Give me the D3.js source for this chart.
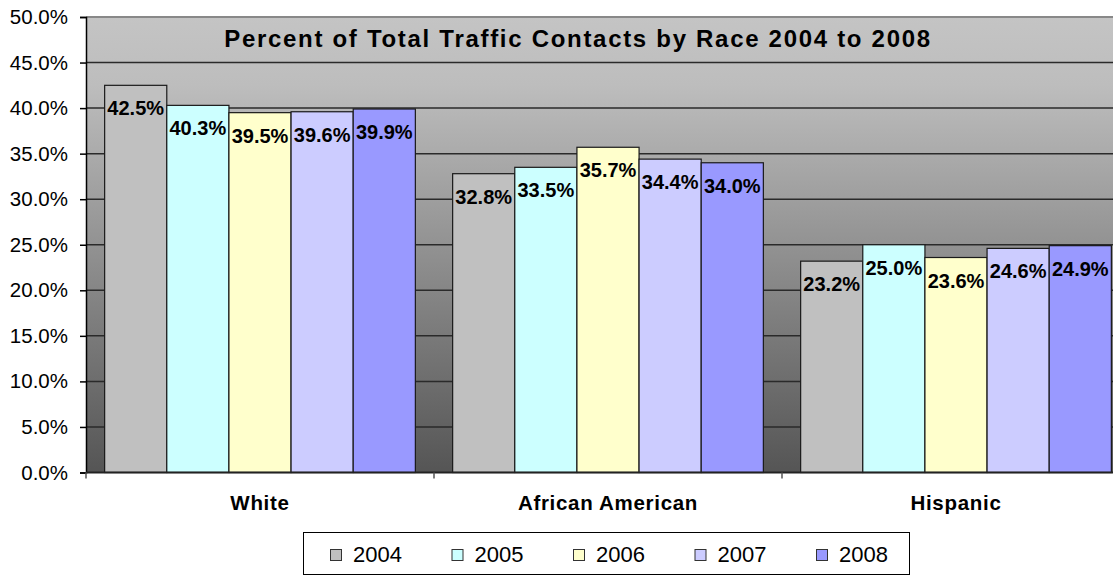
<!DOCTYPE html>
<html>
<head>
<meta charset="utf-8">
<script src="https://cdn.jsdelivr.net/npm/d3@7"></script>
<style>
  body { margin: 0; background: #fff; }
  text { font-family: "Liberation Sans", Arial, sans-serif; }
</style>
</head>
<body>
<svg id="chart" width="1113" height="576"></svg>
<script>
const categories = ['White', 'African American', 'Hispanic'];
const years = ['2004', '2005', '2006', '2007', '2008'];
const v2004 = [42.5, 32.8, 23.2];
const v2005 = [40.3, 33.5, 25.0];
const v2006 = [39.5, 35.7, 23.6];
const v2007 = [39.6, 34.4, 24.6];
const v2008 = [39.9, 34.0, 24.9];
const yTicks = [0, 5, 10, 15, 20, 25, 30, 35, 40, 45, 50];
const colors = ['#c0c0c0', '#ccffff', '#ffffcc', '#ccccff', '#9999ff'];

const seriesVals = [v2004, v2005, v2006, v2007, v2008];

const svg = d3.select('#chart');
const plotLeft = 86, plotTop = 17, plotBottom = 472.5, plotRight = 1130;

// plot background gradient
const grad = svg.append('defs').append('linearGradient')
    .attr('id', 'bg').attr('x1', 0).attr('y1', 0).attr('x2', 0).attr('y2', 1);
grad.append('stop').attr('offset', '0%').attr('stop-color', '#c4c4c4');
grad.append('stop').attr('offset', '15%').attr('stop-color', '#bdbdbd');
grad.append('stop').attr('offset', '100%').attr('stop-color', '#555555');

svg.append('rect')
    .attr('x', plotLeft).attr('y', plotTop)
    .attr('width', plotRight - plotLeft).attr('height', plotBottom - plotTop)
    .attr('fill', 'url(#bg)');

const y = d3.scaleLinear().domain([0, 50]).range([plotBottom, plotTop]);
const x0 = d3.scaleBand().domain(categories).range([plotLeft, plotRight]).padding(0);
const x1 = d3.scaleBand().domain(years).range([0, x0.bandwidth()]).paddingInner(0).paddingOuter(0.3);

// gridlines
svg.append('g').selectAll('line')
    .data(yTicks.filter(t => t > 0 && t < 50))
    .enter().append('line')
    .attr('x1', plotLeft).attr('x2', plotRight)
    .attr('y1', d => y(d)).attr('y2', d => y(d))
    .attr('stroke', '#2a2a2a').attr('stroke-width', 1.5);
svg.append('line')
    .attr('x1', plotLeft).attr('x2', plotRight)
    .attr('y1', plotTop).attr('y2', plotTop)
    .attr('stroke', '#888').attr('stroke-width', 2);

// bars
const groups = svg.append('g').selectAll('g')
    .data(categories)
    .enter().append('g')
    .attr('transform', d => 'translate(' + x0(d) + ',0)');

groups.selectAll('rect')
    .data((c, ci) => years.map((yr, si) => ({yr: yr, si: si, v: seriesVals[si][ci]})))
    .enter().append('rect')
    .attr('x', d => x1(d.yr))
    .attr('y', d => y(d.v))
    .attr('width', x1.bandwidth())
    .attr('height', d => plotBottom - y(d.v))
    .attr('fill', d => colors[d.si])
    .attr('stroke', '#1a1a1a').attr('stroke-width', 1.2);

groups.selectAll('text')
    .data((c, ci) => years.map((yr, si) => ({yr: yr, si: si, v: seriesVals[si][ci]})))
    .enter().append('text')
    .attr('x', d => x1(d.yr) + x1.bandwidth() / 2)
    .attr('y', d => y(d.v) + 30)
    .attr('text-anchor', 'middle')
    .attr('font-size', 20).attr('font-weight', 'bold')
    .attr('fill', '#000')
    .text(d => d.v.toFixed(1) + '%');

// y axis
const yAxis = d3.axisLeft(y).tickValues(yTicks).tickSize(6).tickPadding(12)
    .tickFormat(d => d.toFixed(1) + '%');
const ya = svg.append('g').attr('transform', 'translate(' + plotLeft + ',0)').call(yAxis);
ya.select('.domain').attr('stroke', '#000').attr('stroke-width', 1.5);
ya.selectAll('.tick line').attr('stroke', '#000').attr('stroke-width', 1.5);
ya.selectAll('.tick text')
    .attr('font-size', 20.5).attr('font-family', '"Liberation Sans", Arial, sans-serif')
    .attr('fill', '#000');

// x axis
svg.append('line')
    .attr('x1', plotLeft).attr('x2', plotRight)
    .attr('y1', plotBottom).attr('y2', plotBottom)
    .attr('stroke', '#222').attr('stroke-width', 2);
svg.append('g').selectAll('line')
    .data(categories)
    .enter().append('line')
    .attr('x1', d => x0(d)).attr('x2', d => x0(d))
    .attr('y1', plotBottom).attr('y2', plotBottom + 6)
    .attr('stroke', '#555').attr('stroke-width', 1.5);
svg.append('g').selectAll('text')
    .data(categories)
    .enter().append('text')
    .attr('x', d => x0(d) + x0.bandwidth() / 2)
    .attr('y', 510)
    .attr('text-anchor', 'middle')
    .attr('font-size', 20.5).attr('font-weight', 'bold')
    .attr('letter-spacing', 0.7)
    .text(d => d);

// title
svg.append('text')
    .attr('x', 578).attr('y', 47)
    .attr('text-anchor', 'middle')
    .attr('font-size', 24).attr('font-weight', 'bold')
    .attr('letter-spacing', 1.7)
    .text('Percent of Total Traffic Contacts by Race 2004 to 2008');

// legend
const lg = svg.append('g');
lg.append('rect')
    .attr('x', 303.5).attr('y', 532.5).attr('width', 606).attr('height', 42)
    .attr('fill', '#fff').attr('stroke', '#000').attr('stroke-width', 1);
const items = lg.selectAll('g.item')
    .data(years)
    .enter().append('g')
    .attr('class', 'item')
    .attr('transform', (d, i) => 'translate(' + (330 + i * 121.5) + ',0)');
items.append('rect')
    .attr('x', 0.5).attr('y', 549.5).attr('width', 11).attr('height', 11)
    .attr('fill', (d, i) => colors[i]).attr('stroke', '#333').attr('stroke-width', 1);
items.append('text')
    .attr('x', 23).attr('y', 562)
    .attr('font-size', 22)
    .text(d => d);
</script>
</body>
</html>
